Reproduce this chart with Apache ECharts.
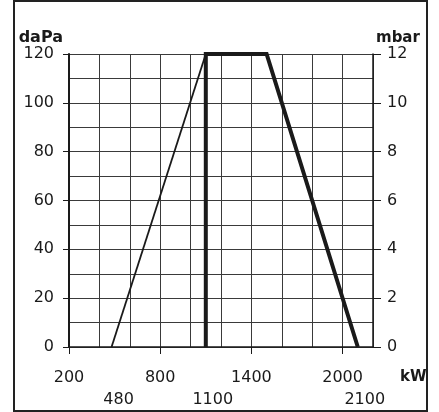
<!DOCTYPE html>
<html>
<head>
<meta charset="utf-8">
<script src="https://cdn.jsdelivr.net/npm/echarts@6/dist/echarts.min.js"></script>
<style>
  html, body { margin: 0; padding: 0; background: #fff; }
  #chart { position: absolute; left: 0; top: 0; width: 439px; height: 412px; }
  #frame { position: absolute; left: 13px; top: 0; width: 411px; height: 408px; border: 2px solid #222; pointer-events: none; }
</style>
</head>
<body>
<div id="chart"></div>
<div id="frame"></div>
<script>
// kW axis
const xMin = 200;
const xMax = 2200;
const xMainLabels = [200, 800, 1400, 2000];
const xMarkLabels = [480, 1100, 2100];
// pressure axes
const daPaMax = 120;
const mbarMax = 12;

// working field outline
const minLine = [[480, 0], [1100, 120]];
const maxLine = [[1100, 0], [1100, 120], [1500, 120], [2100, 0]];

const font = 'DejaVu Sans, sans-serif';
const ink = '#1a1a1a';
const gridColor = '#3a3a3a';
const plain = v => String(v);

const chart = echarts.init(document.getElementById('chart'));

chart.setOption({
  animation: false,
  grid: { left: 69, right: 66, top: 54, bottom: 65 },
  xAxis: [
    {
      type: 'value',
      min: xMin,
      max: xMax,
      interval: 200,
      name: 'kW',
      nameLocation: 'end',
      nameGap: 27,
      nameTextStyle: { fontFamily: font, fontSize: 15, fontWeight: 'bold', color: ink, verticalAlign: 'top', padding: [23, 0, 0, 0] },
      axisLine: { show: true, lineStyle: { color: ink, width: 1.5 } },
      axisTick: { show: false },
      axisLabel: {
        margin: 23, fontFamily: font, fontSize: 16, color: ink,
        formatter: v => (xMainLabels.includes(v) ? String(v) : '')
      },
      splitLine: { show: true, lineStyle: { color: gridColor, width: 1 } }
    },
    {
      type: 'value',
      min: xMin,
      max: xMax,
      position: 'bottom',
      axisLine: { show: false },
      axisTick: { show: true, length: 7, customValues: xMainLabels, lineStyle: { color: ink, width: 1 } },
      axisLabel: { customValues: xMarkLabels, margin: 45, padding: [0, 0, 0, 14], fontFamily: font, fontSize: 16, color: ink, formatter: plain },
      splitLine: { show: false }
    }
  ],
  yAxis: [
    {
      type: 'value',
      min: 0,
      max: daPaMax,
      interval: 20,
      name: 'daPa',
      nameLocation: 'end',
      nameGap: 8,
      nameTextStyle: { fontFamily: font, fontSize: 16, fontWeight: 'bold', color: ink, align: 'right', padding: [0, 6, 0, 0] },
      axisLine: { show: true, lineStyle: { color: ink, width: 2 } },
      axisTick: { show: true, length: 6, lineStyle: { color: ink, width: 1 } },
      axisLabel: { margin: 15, fontFamily: font, fontSize: 16, color: ink, formatter: plain },
      splitLine: { show: true, lineStyle: { color: gridColor, width: 1 } },
      minorTick: { show: false, splitNumber: 2 },
      minorSplitLine: { show: true, lineStyle: { color: gridColor, width: 1 } }
    },
    {
      type: 'value',
      min: 0,
      max: mbarMax,
      interval: 2,
      position: 'right',
      name: 'mbar',
      nameLocation: 'end',
      nameGap: 8,
      nameTextStyle: { fontFamily: font, fontSize: 15, fontWeight: 'bold', color: ink, align: 'left', padding: [0, 0, 0, 3] },
      axisLine: { show: true, lineStyle: { color: ink, width: 1.5 } },
      axisTick: { show: true, length: 8, lineStyle: { color: ink, width: 1 } },
      axisLabel: { margin: 14, fontFamily: font, fontSize: 16, color: ink, formatter: plain },
      splitLine: { show: false }
    }
  ],
  series: [
    {
      type: 'line',
      data: minLine,
      showSymbol: false,
      lineStyle: { color: ink, width: 1.8 }
    },
    {
      type: 'line',
      data: maxLine,
      showSymbol: false,
      lineStyle: { color: ink, width: 4, join: 'miter' }
    }
  ]
});
</script>
</body>
</html>
